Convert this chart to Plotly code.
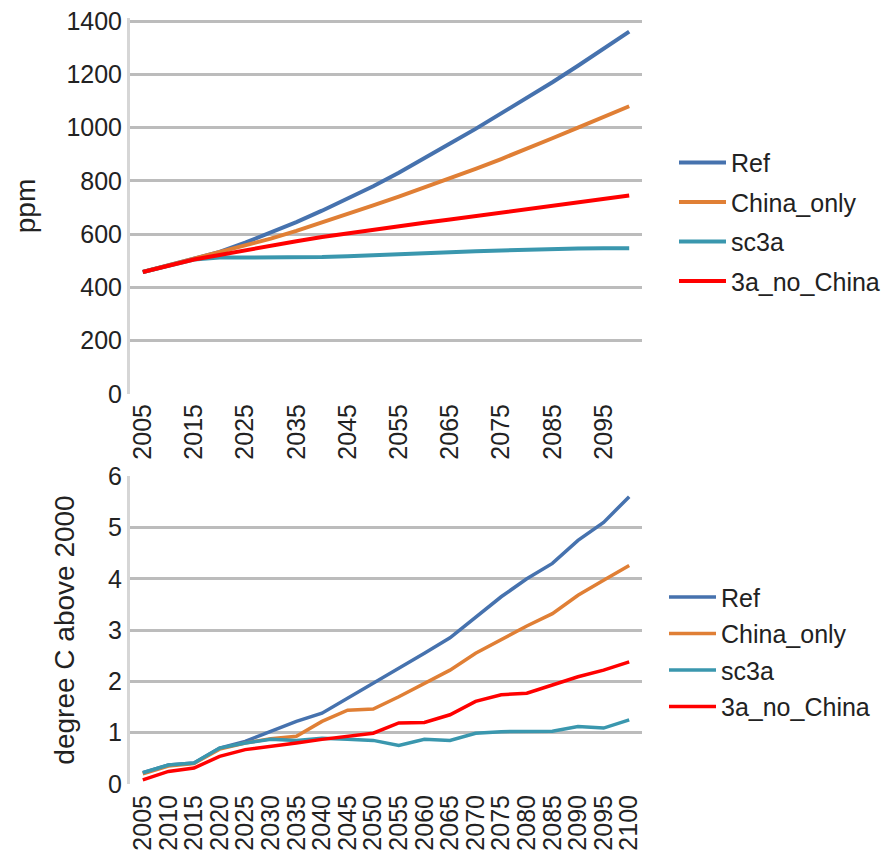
import plotly.graph_objects as go

years = ["2005", "2010", "2015", "2020", "2025", "2030", "2035", "2040", "2045", "2050",
         "2055", "2060", "2065", "2070", "2075", "2080", "2085", "2090", "2095", "2100"]
series_names = ["Ref", "China_only", "sc3a", "3a_no_China"]

ppm_ref = [458, 483, 507, 533, 568, 605, 645, 688, 733, 780, 830, 883, 940, 995, 1052, 1110, 1170, 1232, 1296, 1360]
ppm_china = [458, 483, 507, 530, 556, 583, 612, 643, 676, 708, 741, 775, 808, 845, 882, 920, 960, 1000, 1040, 1080]
ppm_sc3a = [458, 483, 505, 512, 512, 511, 512, 514, 517, 520, 524, 528, 532, 536, 539, 542, 544, 546, 547, 547]
ppm_noch = [458, 483, 505, 522, 540, 557, 573, 589, 603, 617, 630, 643, 655, 668, 680, 692, 705, 718, 732, 745]

t_ref = [0.22, 0.37, 0.41, 0.70, 0.83, 1.02, 1.22, 1.38, 1.67, 1.96, 2.25, 2.55, 2.85, 3.25, 3.65, 4.0, 4.3, 4.75, 5.1, 5.6]
t_china = [0.2, 0.35, 0.4, 0.68, 0.8, 0.88, 0.93, 1.22, 1.44, 1.46, 1.70, 1.96, 2.22, 2.55, 2.82, 3.08, 3.32, 3.68, 3.97, 4.26]
t_sc3a = [0.22, 0.37, 0.41, 0.70, 0.80, 0.87, 0.85, 0.89, 0.87, 0.85, 0.75, 0.87, 0.85, 0.99, 1.02, 1.02, 1.03, 1.12, 1.09, 1.25]
t_noch = [0.08, 0.245, 0.31, 0.54, 0.67, 0.73, 0.80, 0.87, 0.93, 0.99, 1.19, 1.20, 1.35, 1.61, 1.74, 1.77, 1.93, 2.09, 2.22, 2.38]

top_ticks = years[::2]
ppm_yticks = [0, 200, 400, 600, 800, 1000, 1200, 1400]
t_yticks = [0, 1, 2, 3, 4, 5, 6]

colors = ["#4672ae", "#e07f35", "#3a97ae", "#ff0000"]
FONT = "Liberation Sans, Arial, sans-serif"
TXT = "#222222"
GRID = "#bcbcbc"

fig = go.Figure()
for name, vals, col in zip(series_names, [ppm_ref, ppm_china, ppm_sc3a, ppm_noch], colors):
    fig.add_trace(go.Scatter(x=years, y=vals, name=name, mode="lines",
                             line=dict(color=col, width=4),
                             xaxis="x", yaxis="y", legend="legend",
                             legendgroup="a" + name))
for name, vals, col in zip(series_names, [t_ref, t_china, t_sc3a, t_noch], colors):
    fig.add_trace(go.Scatter(x=years, y=vals, name=name, mode="lines",
                             line=dict(color=col, width=3.5),
                             xaxis="x2", yaxis="y2", legend="legend2",
                             legendgroup="b" + name))

# the page body has an 8px margin: work in screen pixels, shifted by it
OFF = 8
W, H = 891 - OFF, 851 - OFF
PL, PR, PT, PB = 130, 642, 18, 784          # plot block in screen pixels
L, R, T, B = PL - OFF, W - (PR - OFF), PT - OFF, H - (PB - OFF)
pw, ph = PR - PL, PB - PT

def ydom(top_px, bot_px):
    return [(PB - bot_px) / ph, (PB - top_px) / ph]

def xfrac(px):
    return (px - PL) / pw

def yfrac(px):
    return (PB - px) / ph

# top panel: 1400 sits at y=21, 0 at y=394; panel extends 3px above
top_max = 1400 * (394 - PT) / (394 - 21)

axis_common = dict(type="category", range=[-0.5, 19.5], showgrid=False,
                   tickangle=-90, tickfont=dict(size=25, color=TXT, family=FONT),
                   showline=False, ticks="", zeroline=False, fixedrange=True,
                   automargin=False)

fig.update_layout(
    width=W, height=H,
    margin=dict(l=L, r=R, t=T, b=B, autoexpand=False),
    paper_bgcolor="white", plot_bgcolor="white",
    font=dict(family=FONT, color=TXT),
    xaxis=dict(**axis_common, domain=[0, 1], anchor="y",
               tickmode="array", tickvals=top_ticks, ticktext=top_ticks,
               ticklabelstandoff=4),
    yaxis=dict(domain=ydom(PT, 394), anchor="x", range=[0, top_max], automargin=False,
               tickvals=ppm_yticks, showgrid=True, gridcolor=GRID, gridwidth=2.5,
               zeroline=False, showline=True, linecolor="#d6d6d6", linewidth=3,
               ticklabeloverflow="allow",
               tickfont=dict(size=25, color=TXT, family=FONT), ticklabelstandoff=0,
               title=dict(text="ppm", font=dict(size=28, color=TXT, family=FONT), standoff=23)),
    xaxis2=dict(**axis_common, domain=[0, 1], anchor="y2",
                tickmode="array", tickvals=years, ticktext=years,
                ticklabelstandoff=5),
    yaxis2=dict(domain=ydom(476, 784), anchor="x2", range=[0, 6.004], automargin=False,
                tickvals=t_yticks, showgrid=True, gridcolor=GRID, gridwidth=2.5,
                zeroline=False, showline=True, linecolor="#d6d6d6", linewidth=3,
                ticklabeloverflow="allow",
                tickfont=dict(size=25, color=TXT, family=FONT), ticklabelstandoff=0,
                title=dict(text="degree C above 2000", font=dict(size=28, color=TXT, family=FONT), standoff=26)),
    legend=dict(x=xfrac(674), xanchor="left", y=yfrac(221.7), yanchor="middle",
                font=dict(size=25, color=TXT, family=FONT), itemwidth=47,
                traceorder="grouped", tracegroupgap=4, bgcolor="rgba(0,0,0,0)"),
    legend2=dict(x=xfrac(664), xanchor="left", y=yfrac(651.7), yanchor="middle",
                 font=dict(size=25, color=TXT, family=FONT), itemwidth=47,
                 traceorder="grouped", tracegroupgap=1, bgcolor="rgba(0,0,0,0)"),
    showlegend=True,
)

fig.write_html("out.html")
